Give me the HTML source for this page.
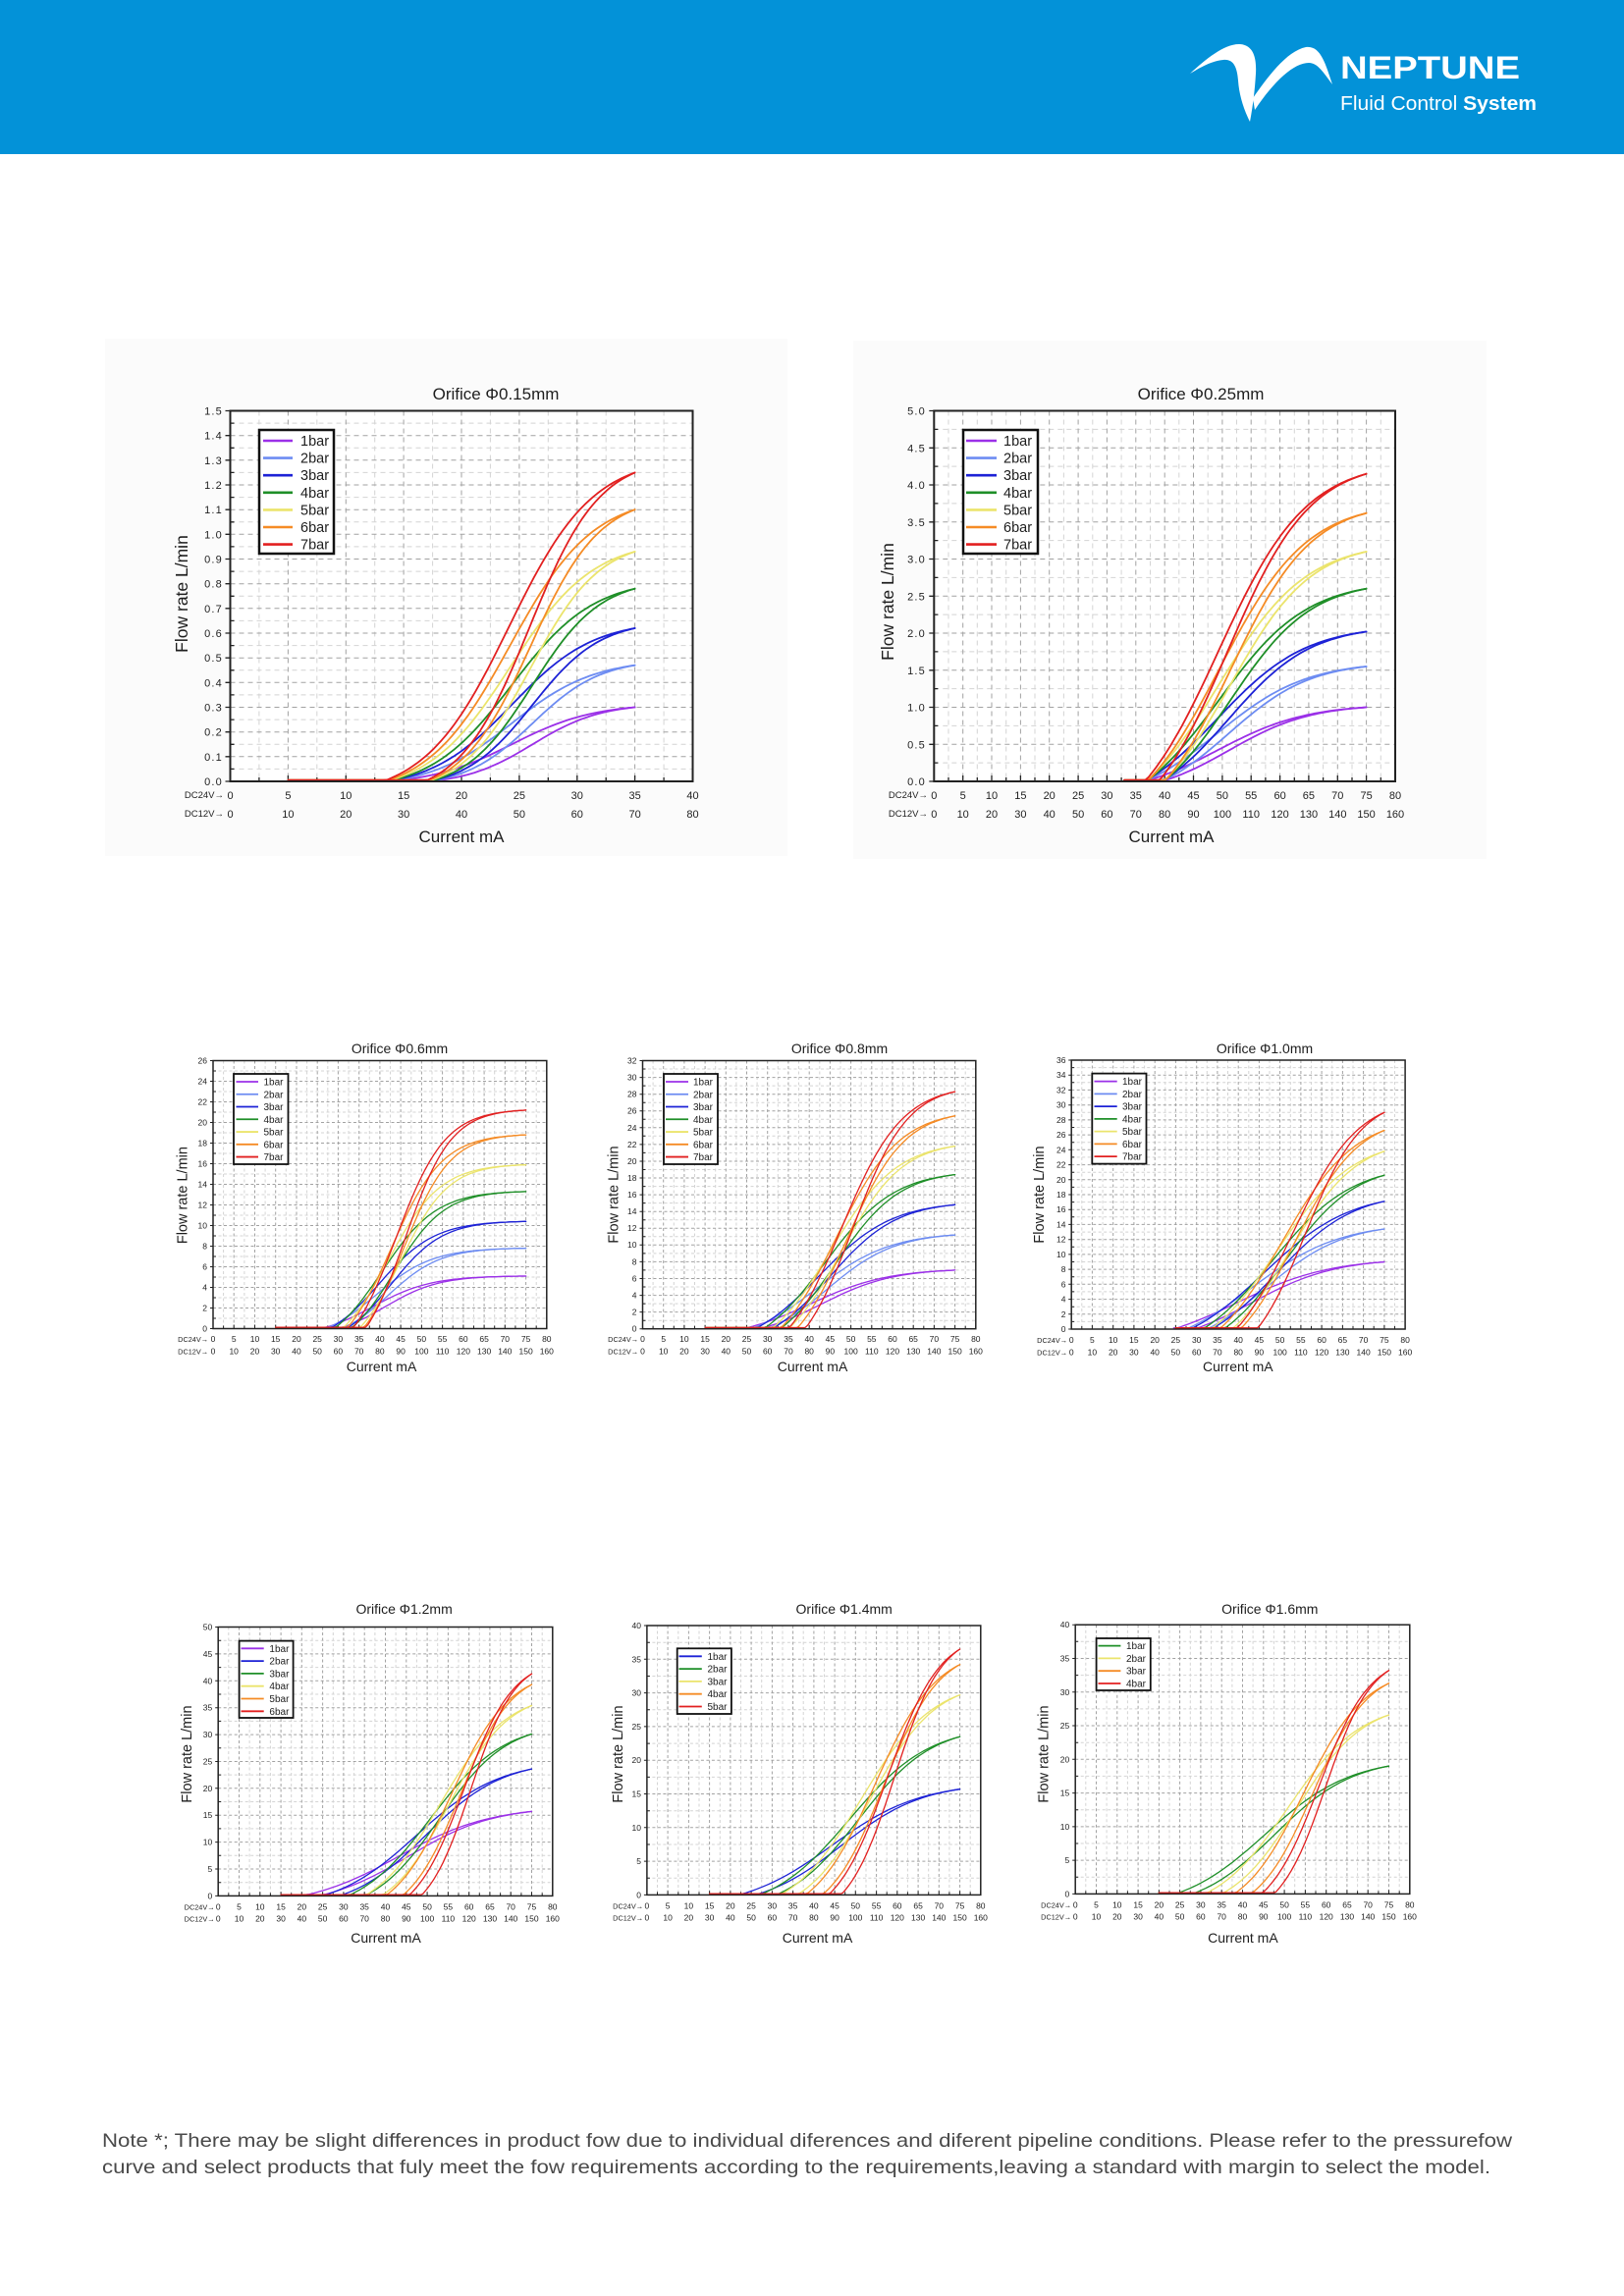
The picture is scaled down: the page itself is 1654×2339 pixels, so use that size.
<!DOCTYPE html>
<html>
<head>
<meta charset="utf-8">
<style>
html,body{margin:0;padding:0;background:#fff;}
svg{display:block;}
text{font-family:"Liberation Sans",Arial,sans-serif;fill:#1e1e1e;}
.yt{font-size:11px;letter-spacing:1.2px;text-anchor:end;}
.xt{font-size:11px;text-anchor:middle;}
.dc{font-size:9.5px;text-anchor:end;}
.ys{font-size:8.5px;text-anchor:end;}
.xs{font-size:8.5px;text-anchor:middle;}
.ds{font-size:7.3px;text-anchor:end;}
.tb{font-size:17px;text-anchor:middle;}
.ts{font-size:14px;text-anchor:middle;}
.lb{font-size:17.5px;text-anchor:middle;}
.ls{font-size:14.5px;text-anchor:middle;}
.lgb{font-size:14.5px;}
.lgs{font-size:10px;}
</style>
</head>
<body>
<svg id="s" width="1654" height="2339" viewBox="0 0 1654 2339" xmlns="http://www.w3.org/2000/svg">
<rect width="1654" height="2339" fill="#ffffff"/>
<!-- header -->
<rect x="0" y="0" width="1654" height="157" fill="#0392d8"/>
<path d="M1212,75 C1228,60 1248,44 1263,45 C1276,46 1280,58 1279,75 C1278,92 1276,108 1273,124 C1266,110 1262,96 1261,82 C1260,68 1256,60 1246,61 C1234,62 1222,69 1212,75 Z" fill="#fff"/>
<path d="M1276,100 C1290,80 1310,52 1330,48 C1345,46 1350,65 1357,86 C1348,74 1342,64 1333,64 C1318,64 1298,82 1278,112 Z" fill="#fff"/>
<text x="1365" y="80" font-size="32" font-weight="bold" style="fill:#fff" textLength="183" lengthAdjust="spacingAndGlyphs">NEPTUNE</text>
<text x="1365" y="112" font-size="20" style="fill:#fff" textLength="200" lengthAdjust="spacingAndGlyphs">Fluid Control <tspan font-weight="bold">System</tspan></text>

<!-- cards -->
<rect x="107" y="345" width="695" height="527" fill="#fbfbfb"/>
<rect x="869" y="347" width="645" height="528" fill="#fbfbfb"/>

<g id="gA"></g><g id="gB"></g><g id="gC"></g><g id="gD"></g>
<g id="gE"></g><g id="gF"></g><g id="gG"></g><g id="gH"></g>

<!-- ================= Chart A ================= -->
<text class="tb" x="505" y="407">Orifice Φ0.15mm</text>
<text class="lb" transform="translate(191,605) rotate(-90)">Flow rate L/min</text>
<text class="tb" x="470" y="858">Current mA</text>
<text class="yt"><tspan x="227" y="800">0.0</tspan><tspan x="227" y="774.8">0.1</tspan><tspan x="227" y="749.7">0.2</tspan><tspan x="227" y="724.5">0.3</tspan><tspan x="227" y="699.3">0.4</tspan><tspan x="227" y="674.2">0.5</tspan><tspan x="227" y="649">0.6</tspan><tspan x="227" y="623.8">0.7</tspan><tspan x="227" y="598.7">0.8</tspan><tspan x="227" y="573.5">0.9</tspan><tspan x="227" y="548.3">1.0</tspan><tspan x="227" y="523.2">1.1</tspan><tspan x="227" y="498">1.2</tspan><tspan x="227" y="472.8">1.3</tspan><tspan x="227" y="447.7">1.4</tspan><tspan x="227" y="422.5">1.5</tspan></text>
<text class="dc"><tspan x="228" y="813">DC24V→</tspan><tspan x="228" y="832">DC12V→</tspan></text>
<text class="xt" y="814"><tspan x="234.5">0</tspan><tspan x="293.4">5</tspan><tspan x="352.3">10</tspan><tspan x="411.1">15</tspan><tspan x="470">20</tspan><tspan x="528.9">25</tspan><tspan x="587.8">30</tspan><tspan x="646.6">35</tspan><tspan x="705.5">40</tspan></text>
<text class="xt" y="833"><tspan x="234.5">0</tspan><tspan x="293.4">10</tspan><tspan x="352.3">20</tspan><tspan x="411.1">30</tspan><tspan x="470">40</tspan><tspan x="528.9">50</tspan><tspan x="587.8">60</tspan><tspan x="646.6">70</tspan><tspan x="705.5">80</tspan></text>
<text class="lgb"><tspan x="306" y="454">1bar</tspan><tspan x="306" y="471.6">2bar</tspan><tspan x="306" y="489.2">3bar</tspan><tspan x="306" y="506.8">4bar</tspan><tspan x="306" y="524.4">5bar</tspan><tspan x="306" y="542">6bar</tspan><tspan x="306" y="559.6">7bar</tspan></text>

<!-- ================= Chart B ================= -->
<text class="tb" x="1223" y="407">Orifice Φ0.25mm</text>
<text class="lb" transform="translate(910,613) rotate(-90)">Flow rate L/min</text>
<text class="tb" x="1193" y="858">Current mA</text>
<text class="yt"><tspan x="943" y="800">0.0</tspan><tspan x="943" y="762.3">0.5</tspan><tspan x="943" y="724.5">1.0</tspan><tspan x="943" y="686.8">1.5</tspan><tspan x="943" y="649">2.0</tspan><tspan x="943" y="611.3">2.5</tspan><tspan x="943" y="573.5">3.0</tspan><tspan x="943" y="535.8">3.5</tspan><tspan x="943" y="498">4.0</tspan><tspan x="943" y="460.3">4.5</tspan><tspan x="943" y="422.5">5.0</tspan></text>
<text class="dc"><tspan x="945" y="813">DC24V→</tspan><tspan x="945" y="832">DC12V→</tspan></text>
<text class="xt" y="814"><tspan x="951.3">0</tspan><tspan x="980.7">5</tspan><tspan x="1010">10</tspan><tspan x="1039.4">15</tspan><tspan x="1068.7">20</tspan><tspan x="1098.1">25</tspan><tspan x="1127.4">30</tspan><tspan x="1156.8">35</tspan><tspan x="1186.1">40</tspan><tspan x="1215.5">45</tspan><tspan x="1244.9">50</tspan><tspan x="1274.2">55</tspan><tspan x="1303.6">60</tspan><tspan x="1332.9">65</tspan><tspan x="1362.3">70</tspan><tspan x="1391.6">75</tspan><tspan x="1421">80</tspan></text>
<text class="xt" y="833"><tspan x="951.3">0</tspan><tspan x="980.7">10</tspan><tspan x="1010">20</tspan><tspan x="1039.4">30</tspan><tspan x="1068.7">40</tspan><tspan x="1098.1">50</tspan><tspan x="1127.4">60</tspan><tspan x="1156.8">70</tspan><tspan x="1186.1">80</tspan><tspan x="1215.5">90</tspan><tspan x="1244.9">100</tspan><tspan x="1274.2">110</tspan><tspan x="1303.6">120</tspan><tspan x="1332.9">130</tspan><tspan x="1362.3">140</tspan><tspan x="1391.6">150</tspan><tspan x="1421">160</tspan></text>
<text class="lgb"><tspan x="1022" y="454">1bar</tspan><tspan x="1022" y="471.6">2bar</tspan><tspan x="1022" y="489.2">3bar</tspan><tspan x="1022" y="506.8">4bar</tspan><tspan x="1022" y="524.4">5bar</tspan><tspan x="1022" y="542">6bar</tspan><tspan x="1022" y="559.6">7bar</tspan></text>

<!-- ================= Chart C ================= -->
<text class="ts" x="407" y="1073">Orifice Φ0.6mm</text>
<text class="ls" transform="translate(190.6,1217.6) rotate(-90)">Flow rate L/min</text>
<text class="ts" x="388.5" y="1397">Current mA</text>
<text class="ys"><tspan x="211" y="1356.5">0</tspan><tspan x="211" y="1335.5">2</tspan><tspan x="211" y="1314.5">4</tspan><tspan x="211" y="1293.5">6</tspan><tspan x="211" y="1272.5">8</tspan><tspan x="211" y="1251.5">10</tspan><tspan x="211" y="1230.5">12</tspan><tspan x="211" y="1209.5">14</tspan><tspan x="211" y="1188.5">16</tspan><tspan x="211" y="1167.5">18</tspan><tspan x="211" y="1146.5">20</tspan><tspan x="211" y="1125.5">22</tspan><tspan x="211" y="1104.5">24</tspan><tspan x="211" y="1083.5">26</tspan></text>
<text class="ds"><tspan x="212" y="1367">DC24V→</tspan><tspan x="212" y="1379.5">DC12V→</tspan></text>
<text class="xs" y="1367"><tspan x="217">0</tspan><tspan x="238.2">5</tspan><tspan x="259.5">10</tspan><tspan x="280.7">15</tspan><tspan x="302">20</tspan><tspan x="323.2">25</tspan><tspan x="344.4">30</tspan><tspan x="365.7">35</tspan><tspan x="386.9">40</tspan><tspan x="408.1">45</tspan><tspan x="429.4">50</tspan><tspan x="450.6">55</tspan><tspan x="471.9">60</tspan><tspan x="493.1">65</tspan><tspan x="514.3">70</tspan><tspan x="535.6">75</tspan><tspan x="556.8">80</tspan></text>
<text class="xs" y="1379.5"><tspan x="217">0</tspan><tspan x="238.2">10</tspan><tspan x="259.5">20</tspan><tspan x="280.7">30</tspan><tspan x="302">40</tspan><tspan x="323.2">50</tspan><tspan x="344.4">60</tspan><tspan x="365.7">70</tspan><tspan x="386.9">80</tspan><tspan x="408.1">90</tspan><tspan x="429.4">100</tspan><tspan x="450.6">110</tspan><tspan x="471.9">120</tspan><tspan x="493.1">130</tspan><tspan x="514.3">140</tspan><tspan x="535.6">150</tspan><tspan x="556.8">160</tspan></text>
<text class="lgs"><tspan x="268.5" y="1105.5">1bar</tspan><tspan x="268.5" y="1118.3">2bar</tspan><tspan x="268.5" y="1131">3bar</tspan><tspan x="268.5" y="1143.8">4bar</tspan><tspan x="268.5" y="1156.5">5bar</tspan><tspan x="268.5" y="1169.3">6bar</tspan><tspan x="268.5" y="1182.1">7bar</tspan></text>

<!-- ================= Chart D ================= -->
<text class="ts" x="855" y="1073">Orifice Φ0.8mm</text>
<text class="ls" transform="translate(629.6,1217) rotate(-90)">Flow rate L/min</text>
<text class="ts" x="827.5" y="1397">Current mA</text>
<text class="ys"><tspan x="648.5" y="1356.5">0</tspan><tspan x="648.5" y="1339.4">2</tspan><tspan x="648.5" y="1322.4">4</tspan><tspan x="648.5" y="1305.3">6</tspan><tspan x="648.5" y="1288.3">8</tspan><tspan x="648.5" y="1271.2">10</tspan><tspan x="648.5" y="1254.1">12</tspan><tspan x="648.5" y="1237.1">14</tspan><tspan x="648.5" y="1220">16</tspan><tspan x="648.5" y="1202.9">18</tspan><tspan x="648.5" y="1185.9">20</tspan><tspan x="648.5" y="1168.8">22</tspan><tspan x="648.5" y="1151.8">24</tspan><tspan x="648.5" y="1134.7">26</tspan><tspan x="648.5" y="1117.6">28</tspan><tspan x="648.5" y="1100.6">30</tspan><tspan x="648.5" y="1083.5">32</tspan></text>
<text class="ds"><tspan x="650" y="1367">DC24V→</tspan><tspan x="650" y="1379.5">DC12V→</tspan></text>
<text class="xs" y="1367"><tspan x="654.5">0</tspan><tspan x="675.7">5</tspan><tspan x="696.9">10</tspan><tspan x="718.1">15</tspan><tspan x="739.3">20</tspan><tspan x="760.5">25</tspan><tspan x="781.7">30</tspan><tspan x="803">35</tspan><tspan x="824.2">40</tspan><tspan x="845.4">45</tspan><tspan x="866.6">50</tspan><tspan x="887.8">55</tspan><tspan x="909">60</tspan><tspan x="930.2">65</tspan><tspan x="951.4">70</tspan><tspan x="972.6">75</tspan><tspan x="993.8">80</tspan></text>
<text class="xs" y="1379.5"><tspan x="654.5">0</tspan><tspan x="675.7">10</tspan><tspan x="696.9">20</tspan><tspan x="718.1">30</tspan><tspan x="739.3">40</tspan><tspan x="760.5">50</tspan><tspan x="781.7">60</tspan><tspan x="803">70</tspan><tspan x="824.2">80</tspan><tspan x="845.4">90</tspan><tspan x="866.6">100</tspan><tspan x="887.8">110</tspan><tspan x="909">120</tspan><tspan x="930.2">130</tspan><tspan x="951.4">140</tspan><tspan x="972.6">150</tspan><tspan x="993.8">160</tspan></text>
<text class="lgs"><tspan x="706" y="1105.5">1bar</tspan><tspan x="706" y="1118.3">2bar</tspan><tspan x="706" y="1131">3bar</tspan><tspan x="706" y="1143.8">4bar</tspan><tspan x="706" y="1156.5">5bar</tspan><tspan x="706" y="1169.3">6bar</tspan><tspan x="706" y="1182.1">7bar</tspan></text>

<!-- ================= Chart E ================= -->
<text class="ts" x="1288" y="1073">Orifice Φ1.0mm</text>
<text class="ls" transform="translate(1063.2,1217) rotate(-90)">Flow rate L/min</text>
<text class="ts" x="1260.8" y="1397">Current mA</text>
<text class="ys"><tspan x="1085.5" y="1357">0</tspan><tspan x="1085.5" y="1341.8">2</tspan><tspan x="1085.5" y="1326.6">4</tspan><tspan x="1085.5" y="1311.3">6</tspan><tspan x="1085.5" y="1296.1">8</tspan><tspan x="1085.5" y="1280.9">10</tspan><tspan x="1085.5" y="1265.7">12</tspan><tspan x="1085.5" y="1250.4">14</tspan><tspan x="1085.5" y="1235.2">16</tspan><tspan x="1085.5" y="1220">18</tspan><tspan x="1085.5" y="1204.8">20</tspan><tspan x="1085.5" y="1189.6">22</tspan><tspan x="1085.5" y="1174.3">24</tspan><tspan x="1085.5" y="1159.1">26</tspan><tspan x="1085.5" y="1143.9">28</tspan><tspan x="1085.5" y="1128.7">30</tspan><tspan x="1085.5" y="1113.4">32</tspan><tspan x="1085.5" y="1098.2">34</tspan><tspan x="1085.5" y="1083">36</tspan></text>
<text class="ds"><tspan x="1087" y="1368">DC24V→</tspan><tspan x="1087" y="1380.5">DC12V→</tspan></text>
<text class="xs" y="1368"><tspan x="1091.2">0</tspan><tspan x="1112.4">5</tspan><tspan x="1133.7">10</tspan><tspan x="1154.9">15</tspan><tspan x="1176.2">20</tspan><tspan x="1197.4">25</tspan><tspan x="1218.7">30</tspan><tspan x="1239.9">35</tspan><tspan x="1261.2">40</tspan><tspan x="1282.4">45</tspan><tspan x="1303.6">50</tspan><tspan x="1324.9">55</tspan><tspan x="1346.1">60</tspan><tspan x="1367.4">65</tspan><tspan x="1388.6">70</tspan><tspan x="1409.9">75</tspan><tspan x="1431.1">80</tspan></text>
<text class="xs" y="1380.5"><tspan x="1091.2">0</tspan><tspan x="1112.4">10</tspan><tspan x="1133.7">20</tspan><tspan x="1154.9">30</tspan><tspan x="1176.2">40</tspan><tspan x="1197.4">50</tspan><tspan x="1218.7">60</tspan><tspan x="1239.9">70</tspan><tspan x="1261.2">80</tspan><tspan x="1282.4">90</tspan><tspan x="1303.6">100</tspan><tspan x="1324.9">110</tspan><tspan x="1346.1">120</tspan><tspan x="1367.4">130</tspan><tspan x="1388.6">140</tspan><tspan x="1409.9">150</tspan><tspan x="1431.1">160</tspan></text>
<text class="lgs"><tspan x="1143" y="1105.1">1bar</tspan><tspan x="1143" y="1117.9">2bar</tspan><tspan x="1143" y="1130.6">3bar</tspan><tspan x="1143" y="1143.4">4bar</tspan><tspan x="1143" y="1156.1">5bar</tspan><tspan x="1143" y="1168.9">6bar</tspan><tspan x="1143" y="1181.6">7bar</tspan></text>

<!-- ================= Chart F ================= -->
<text class="ts" x="411.6" y="1644">Orifice Φ1.2mm</text>
<text class="ls" transform="translate(195,1787) rotate(-90)">Flow rate L/min</text>
<text class="ts" x="393" y="1979">Current mA</text>
<text class="ys"><tspan x="216.2" y="1934.4">0</tspan><tspan x="216.2" y="1907">5</tspan><tspan x="216.2" y="1879.6">10</tspan><tspan x="216.2" y="1852.2">15</tspan><tspan x="216.2" y="1824.8">20</tspan><tspan x="216.2" y="1797.5">25</tspan><tspan x="216.2" y="1770.1">30</tspan><tspan x="216.2" y="1742.7">35</tspan><tspan x="216.2" y="1715.3">40</tspan><tspan x="216.2" y="1687.9">45</tspan><tspan x="216.2" y="1660.5">50</tspan></text>
<text class="ds"><tspan x="218.5" y="1945.5">DC24V→</tspan><tspan x="218.5" y="1957.5">DC12V→</tspan></text>
<text class="xs" y="1945.5"><tspan x="222.2">0</tspan><tspan x="243.5">5</tspan><tspan x="264.8">10</tspan><tspan x="286.1">15</tspan><tspan x="307.4">20</tspan><tspan x="328.6">25</tspan><tspan x="349.9">30</tspan><tspan x="371.2">35</tspan><tspan x="392.5">40</tspan><tspan x="413.8">45</tspan><tspan x="435.1">50</tspan><tspan x="456.4">55</tspan><tspan x="477.7">60</tspan><tspan x="499">65</tspan><tspan x="520.2">70</tspan><tspan x="541.5">75</tspan><tspan x="562.8">80</tspan></text>
<text class="xs" y="1957.5"><tspan x="222.2">0</tspan><tspan x="243.5">10</tspan><tspan x="264.8">20</tspan><tspan x="286.1">30</tspan><tspan x="307.4">40</tspan><tspan x="328.6">50</tspan><tspan x="349.9">60</tspan><tspan x="371.2">70</tspan><tspan x="392.5">80</tspan><tspan x="413.8">90</tspan><tspan x="435.1">100</tspan><tspan x="456.4">110</tspan><tspan x="477.7">120</tspan><tspan x="499">130</tspan><tspan x="520.2">140</tspan><tspan x="541.5">150</tspan><tspan x="562.8">160</tspan></text>
<text class="lgs"><tspan x="274.4" y="1682.8">1bar</tspan><tspan x="274.4" y="1695.6">2bar</tspan><tspan x="274.4" y="1708.4">3bar</tspan><tspan x="274.4" y="1721.2">4bar</tspan><tspan x="274.4" y="1734">5bar</tspan><tspan x="274.4" y="1746.8">6bar</tspan></text>

<!-- ================= Chart G ================= -->
<text class="ts" x="859.7" y="1644">Orifice Φ1.4mm</text>
<text class="ls" transform="translate(634,1787) rotate(-90)">Flow rate L/min</text>
<text class="ts" x="832.5" y="1979">Current mA</text>
<text class="ys"><tspan x="653" y="1933.4">0</tspan><tspan x="653" y="1899.1">5</tspan><tspan x="653" y="1864.8">10</tspan><tspan x="653" y="1830.5">15</tspan><tspan x="653" y="1796.2">20</tspan><tspan x="653" y="1761.9">25</tspan><tspan x="653" y="1727.6">30</tspan><tspan x="653" y="1693.3">35</tspan><tspan x="653" y="1659">40</tspan></text>
<text class="ds"><tspan x="655" y="1944.5">DC24V→</tspan><tspan x="655" y="1956.5">DC12V→</tspan></text>
<text class="xs" y="1944.5"><tspan x="658.9">0</tspan><tspan x="680.1">5</tspan><tspan x="701.4">10</tspan><tspan x="722.6">15</tspan><tspan x="743.9">20</tspan><tspan x="765.1">25</tspan><tspan x="786.4">30</tspan><tspan x="807.6">35</tspan><tspan x="828.9">40</tspan><tspan x="850.1">45</tspan><tspan x="871.3">50</tspan><tspan x="892.6">55</tspan><tspan x="913.8">60</tspan><tspan x="935.1">65</tspan><tspan x="956.3">70</tspan><tspan x="977.6">75</tspan><tspan x="998.8">80</tspan></text>
<text class="xs" y="1956.5"><tspan x="658.9">0</tspan><tspan x="680.1">10</tspan><tspan x="701.4">20</tspan><tspan x="722.6">30</tspan><tspan x="743.9">40</tspan><tspan x="765.1">50</tspan><tspan x="786.4">60</tspan><tspan x="807.6">70</tspan><tspan x="828.9">80</tspan><tspan x="850.1">90</tspan><tspan x="871.3">100</tspan><tspan x="892.6">110</tspan><tspan x="913.8">120</tspan><tspan x="935.1">130</tspan><tspan x="956.3">140</tspan><tspan x="977.6">150</tspan><tspan x="998.8">160</tspan></text>
<text class="lgs"><tspan x="720.5" y="1690.8">1bar</tspan><tspan x="720.5" y="1703.6">2bar</tspan><tspan x="720.5" y="1716.4">3bar</tspan><tspan x="720.5" y="1729.2">4bar</tspan><tspan x="720.5" y="1742">5bar</tspan></text>

<!-- ================= Chart H ================= -->
<text class="ts" x="1293.3" y="1644">Orifice Φ1.6mm</text>
<text class="ls" transform="translate(1067.6,1787) rotate(-90)">Flow rate L/min</text>
<text class="ts" x="1265.9" y="1979">Current mA</text>
<text class="ys"><tspan x="1089.2" y="1932.4">0</tspan><tspan x="1089.2" y="1898.1">5</tspan><tspan x="1089.2" y="1863.9">10</tspan><tspan x="1089.2" y="1829.6">15</tspan><tspan x="1089.2" y="1795.3">20</tspan><tspan x="1089.2" y="1761">25</tspan><tspan x="1089.2" y="1726.8">30</tspan><tspan x="1089.2" y="1692.5">35</tspan><tspan x="1089.2" y="1658.2">40</tspan></text>
<text class="ds"><tspan x="1091" y="1943.5">DC24V→</tspan><tspan x="1091" y="1955.5">DC12V→</tspan></text>
<text class="xs" y="1943.5"><tspan x="1095.2">0</tspan><tspan x="1116.5">5</tspan><tspan x="1137.8">10</tspan><tspan x="1159.1">15</tspan><tspan x="1180.4">20</tspan><tspan x="1201.6">25</tspan><tspan x="1222.9">30</tspan><tspan x="1244.2">35</tspan><tspan x="1265.5">40</tspan><tspan x="1286.8">45</tspan><tspan x="1308.1">50</tspan><tspan x="1329.4">55</tspan><tspan x="1350.7">60</tspan><tspan x="1372">65</tspan><tspan x="1393.2">70</tspan><tspan x="1414.5">75</tspan><tspan x="1435.8">80</tspan></text>
<text class="xs" y="1955.5"><tspan x="1095.2">0</tspan><tspan x="1116.5">10</tspan><tspan x="1137.8">20</tspan><tspan x="1159.1">30</tspan><tspan x="1180.4">40</tspan><tspan x="1201.6">50</tspan><tspan x="1222.9">60</tspan><tspan x="1244.2">70</tspan><tspan x="1265.5">80</tspan><tspan x="1286.8">90</tspan><tspan x="1308.1">100</tspan><tspan x="1329.4">110</tspan><tspan x="1350.7">120</tspan><tspan x="1372">130</tspan><tspan x="1393.2">140</tspan><tspan x="1414.5">150</tspan><tspan x="1435.8">160</tspan></text>
<text class="lgs"><tspan x="1147" y="1680.1">1bar</tspan><tspan x="1147" y="1692.9">2bar</tspan><tspan x="1147" y="1705.7">3bar</tspan><tspan x="1147" y="1718.5">4bar</tspan></text>

<!-- note -->
<text x="104" y="2187" font-size="19.5" style="fill:#4a4a4a" textLength="1436" lengthAdjust="spacingAndGlyphs">Note *; There may be slight differences in product fow due to individual diferences and diferent pipeline conditions. Please refer to the pressurefow</text>
<text x="104" y="2214" font-size="19.5" style="fill:#4a4a4a" textLength="1414" lengthAdjust="spacingAndGlyphs">curve and select products that fuly meet the fow requirements according to the requirements,leaving a standard with margin to select the model.</text>
</svg>

<script>
(function(){
var NS="http://www.w3.org/2000/svg";
function mk(p,t,a){var e=document.createElementNS(NS,t);for(var k in a)e.setAttribute(k,a[k]);p.appendChild(e);return e;}
var COL={p:"#9b30e8",lb:"#6d8cf2",b:"#1d22d6",g:"#1f8f28",y:"#ebe46c",o:"#f58b25",r:"#e22020"};
function logi(t,k,c){return 1/(1+Math.exp(-k*(t-c)));}
function f1(v){return (Math.round(v*10)/10).toString();}
function draw(cfg){
  var g=document.getElementById(cfg.id);
  var L=cfg.L,R=cfg.R,T=cfg.T,B=cfg.B,xmax=cfg.xmax,ymax=cfg.ymax,nY=cfg.nY,big=cfg.big;
  var W=R-L,H=B-T;
  function sx(x){return L+x/xmax*W;}
  function sy(y){return B-y/ymax*H;}
  mk(g,"rect",{x:L,y:T,width:W,height:H,fill:"#ffffff"});
  var mj="",mn="",i,j;
  var nx=xmax/5;
  for(i=0;i<nx;i++){
    if(i>0) mj+="M"+f1(sx(i*5))+" "+T+"V"+B;
    mn+="M"+f1(sx(i*5+2.5))+" "+T+"V"+B;
  }
  var st=ymax/nY;
  for(j=0;j<nY;j++){
    if(j>0) mj+="M"+L+" "+f1(sy(j*st))+"H"+R;
    mn+="M"+L+" "+f1(sy(j*st+st/2))+"H"+R;
  }
  var da=big?"5 4":"3 2.5";
  mk(g,"path",{d:mn,stroke:"#d4d4d4","stroke-width":1,"stroke-dasharray":da,fill:"none"});
  mk(g,"path",{d:mj,stroke:"#a2a2a2","stroke-width":1,"stroke-dasharray":da,fill:"none"});
  var tk="";
  for(i=0;i<=nx*2;i++){
    var len=(i%2==0)?(big?6:4):(big?4:3);
    tk+="M"+f1(sx(i*2.5))+" "+B+"v"+(-len);
  }
  for(j=0;j<=nY*2;j++){
    var yy=f1(sy(j*st/2));
    if(j%2==0) tk+="M"+(L-(big?5:3))+" "+yy+"h"+(big?5:3);
    else tk+="M"+L+" "+yy+"h"+(big?4:3);
  }
  mk(g,"path",{d:tk,stroke:"#222","stroke-width":big?1.3:1,fill:"none"});
  var lw=big?1.8:1.3;
  cfg.series.forEach(function(s){
    var k=s.k||cfg.k, c=s.c||cfg.c, d=(s.d!=null)?s.d:cfg.d, xe=cfg.xe;
    var l0=logi(0,k,c), l1=logi(1,k,c);
    [1,-1].forEach(function(sgn){
      var xs=s.xs+sgn*d;
      var p="M"+f1(sx(cfg.xf))+" "+f1(B-1.2)+"L"+f1(sx(xs))+" "+f1(B-1.2);
      var N=60;
      for(var n=1;n<=N;n++){
        var t=n/N, x=xs+t*(xe-xs);
        var y=s.v*(logi(t,k,c)-l0)/(l1-l0);
        p+="L"+f1(sx(x))+" "+f1(Math.min(sy(y),B-1.2));
      }
      mk(g,"path",{d:p,stroke:COL[s.col],"stroke-width":lw,fill:"none","stroke-linejoin":"round","stroke-linecap":"round"});
    });
  });
  mk(g,"rect",{x:L,y:T,width:W,height:H,fill:"none",stroke:"#222","stroke-width":big?2:1.5});
  var lg=cfg.leg;
  mk(g,"rect",{x:lg.x,y:lg.y,width:lg.w,height:lg.h,fill:"#ffffff",stroke:"#111","stroke-width":big?2.5:1.8});
  cfg.series.forEach(function(s,i){
    var y=lg.y0+i*lg.dy;
    mk(g,"line",{x1:lg.lx1,x2:lg.lx2,y1:y,y2:y,stroke:COL[s.col],"stroke-width":big?2.6:1.8});
  });
}
var charts=[
 {id:"gA",L:234.5,R:705.5,T:418.5,B:796,xmax:40,ymax:1.5,nY:15,big:1,xe:35,xf:5,k:6,c:0.5,d:1.8,
  series:[{col:"p",v:0.30,xs:15.5},{col:"lb",v:0.47,xs:15.5},{col:"b",v:0.62,xs:15.5},{col:"g",v:0.78,xs:15.5},{col:"y",v:0.93,xs:15.3},{col:"o",v:1.10,xs:15.2},{col:"r",v:1.25,xs:15}],
  leg:{x:264,y:438,w:76,h:126,lx1:268,lx2:298,y0:449,dy:17.6}},
 {id:"gB",L:951.3,R:1421,T:418.5,B:796,xmax:80,ymax:5,nY:10,big:1,xe:75,xf:33,k:5,c:0.33,d:1.5,
  series:[{col:"p",v:1.0,xs:38},{col:"lb",v:1.55,xs:38},{col:"b",v:2.02,xs:38},{col:"g",v:2.6,xs:38.3},{col:"y",v:3.1,xs:38.3},{col:"o",v:3.62,xs:38.5},{col:"r",v:4.15,xs:37.8,d:1.2}],
  leg:{x:981,y:438,w:76,h:126,lx1:984,lx2:1015,y0:449,dy:17.6}},
 {id:"gC",L:217,R:556.8,T:1080.5,B:1353.5,xmax:80,ymax:26,nY:13,big:0,xe:75,xf:15,k:7,c:0.25,d:2,
  series:[{col:"p",v:5.1,xs:28},{col:"lb",v:7.8,xs:29},{col:"b",v:10.4,xs:30},{col:"g",v:13.3,xs:31},{col:"y",v:15.9,xs:33},{col:"o",v:18.8,xs:34},{col:"r",v:21.2,xs:35,d:1.5}],
  leg:{x:238,y:1094,w:55.5,h:92,lx1:240.5,lx2:263,y0:1102,dy:12.76}},
 {id:"gD",L:654.5,R:993.8,T:1080.5,B:1353.7,xmax:80,ymax:32,nY:16,big:0,xe:75,xf:15,k:5.5,c:0.32,d:2,
  series:[{col:"p",v:7.0,xs:26},{col:"lb",v:11.2,xs:28},{col:"b",v:14.8,xs:29},{col:"g",v:18.4,xs:31},{col:"y",v:21.8,xs:33},{col:"o",v:25.4,xs:35},{col:"r",v:28.3,xs:37}],
  leg:{x:676,y:1094,w:55,h:92,lx1:678,lx2:701,y0:1102,dy:12.76}},
 {id:"gE",L:1091.2,R:1431.1,T:1080,B:1354,xmax:80,ymax:36,nY:18,big:0,xe:75,xf:25,k:4.5,c:0.38,d:2.5,
  series:[{col:"p",v:9.0,xs:27,c:0.3},{col:"lb",v:13.4,xs:30,c:0.33},{col:"b",v:17.1,xs:31},{col:"g",v:20.6,xs:34},{col:"y",v:23.8,xs:36},{col:"o",v:26.6,xs:38},{col:"r",v:29.0,xs:42}],
  leg:{x:1112.3,y:1093.6,w:55.2,h:92,lx1:1114.5,lx2:1137.7,y0:1101.6,dy:12.75}},
 {id:"gF",L:222.2,R:562.8,T:1657.5,B:1931.4,xmax:80,ymax:50,nY:10,big:0,xe:75,xf:15,k:5,c:0.45,d:2,
  series:[{col:"p",v:15.7,xs:22,c:0.42},{col:"b",v:23.6,xs:27},{col:"g",v:30.1,xs:33},{col:"y",v:35.4,xs:37},{col:"o",v:39.3,xs:42},{col:"r",v:41.3,xs:47,d:1.5}],
  leg:{x:243.6,y:1671.6,w:55,h:78.4,lx1:245.5,lx2:268.7,y0:1679.3,dy:12.8}},
 {id:"gG",L:658.9,R:998.8,T:1656,B:1930.4,xmax:80,ymax:40,nY:8,big:0,xe:75,xf:15,k:5,c:0.45,d:2,
  series:[{col:"b",v:15.7,xs:24,c:0.42},{col:"g",v:23.5,xs:29},{col:"y",v:29.7,xs:34},{col:"o",v:34.2,xs:40},{col:"r",v:36.5,xs:45,d:1.5}],
  leg:{x:689.7,y:1679.3,w:55.2,h:66.7,lx1:691.5,lx2:714.8,y0:1687.3,dy:12.8}},
 {id:"gH",L:1095.2,R:1435.8,T:1655.2,B:1929.4,xmax:80,ymax:40,nY:8,big:0,xe:75,xf:20,k:5,c:0.45,d:2,
  series:[{col:"g",v:19.0,xs:26,c:0.42},{col:"y",v:26.6,xs:33},{col:"o",v:31.3,xs:40},{col:"r",v:33.2,xs:46,d:1.5}],
  leg:{x:1116.6,y:1669,w:55.2,h:53,lx1:1118.5,lx2:1141.4,y0:1676.6,dy:12.8}}
];
charts.forEach(draw);
})();
</script>
</body>
</html>
